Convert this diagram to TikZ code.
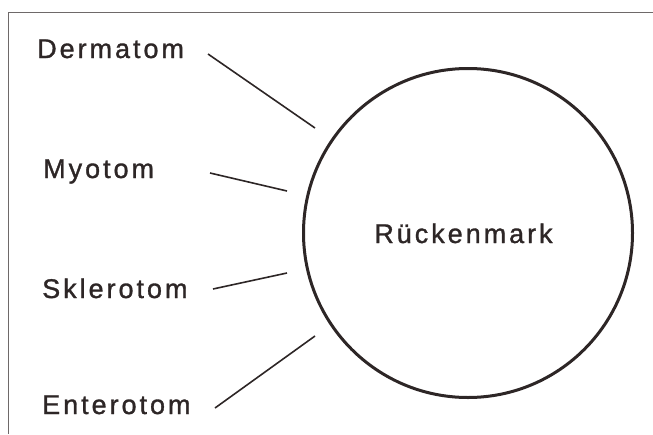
\documentclass[tikz,border=0pt]{standalone}
\usepackage{fontspec}
\setmainfont[LetterSpace=11,FakeBold=1.2]{Liberation Sans}
\definecolor{ink}{RGB}{45,38,38}
\definecolor{frame}{RGB}{110,105,105}
\begin{document}
\begin{tikzpicture}[x=1pt,y=-1pt,
  lbl/.style={anchor=base west, inner sep=0pt, font=\fontsize{27}{32}\selectfont, text=ink},
  conn/.style={draw=ink, line width=1.6pt}]
\useasboundingbox (0,0) rectangle (653,434);
\draw[line width=1.1pt, draw=frame] (653,12.5) -- (8.5,12.5) -- (8.5,434);
\node[circle, draw=ink, line width=3pt, minimum size=329pt, inner sep=0pt] (rm) at (468,233) {};
\node[lbl, anchor=base] (rmtext) at (463.5,243) {Rückenmark};
\node[lbl] (derm) at (37,58) {Dermatom};
\node[lbl] (myo) at (43,178) {Myotom};
\node[lbl] (skl) at (42,298) {Sklerotom};
\node[lbl] (ent) at (42,414) {Enterotom};
\coordinate (d1) at (208,54);  \coordinate (d2) at (315,128);
\coordinate (m1) at (210,173); \coordinate (m2) at (287,191);
\coordinate (s1) at (213,289); \coordinate (s2) at (287,273);
\coordinate (e1) at (215,408); \coordinate (e2) at (315,336);
\draw[conn] (d1) -- (d2);
\draw[conn] (m1) -- (m2);
\draw[conn] (s1) -- (s2);
\draw[conn] (e1) -- (e2);
\end{tikzpicture}
\end{document}
